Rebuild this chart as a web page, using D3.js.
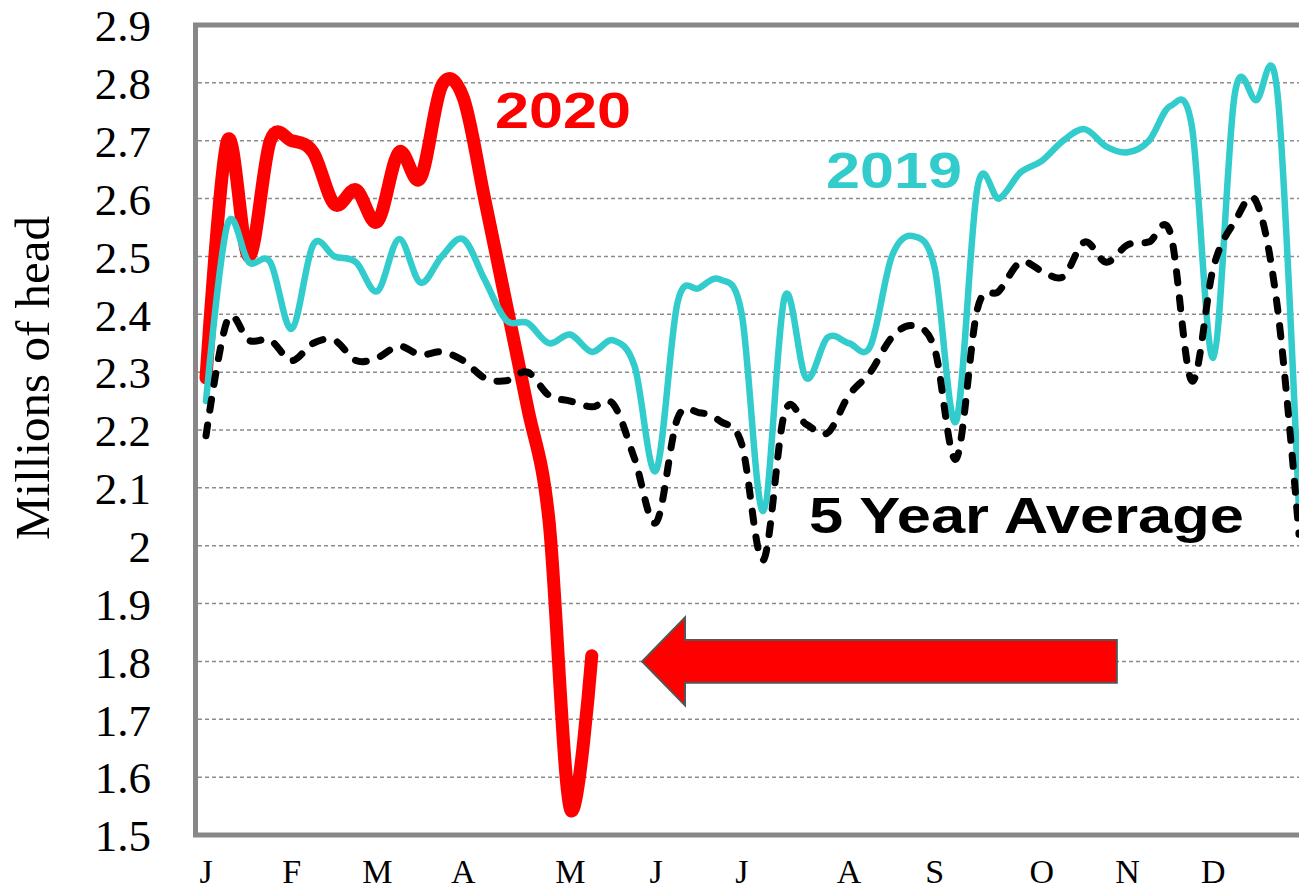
<!DOCTYPE html>
<html>
<head>
<meta charset="utf-8">
<script src="https://cdn.jsdelivr.net/npm/d3@7"></script>
<style>
  body { margin: 0; background: #fff; }
  svg { display: block; }
</style>
</head>
<body>
<script>
// weekly series, millions of head (week 0 = first week of Jan)
const avg5 = [2.19, 2.39, 2.355, 2.355, 2.32, 2.35, 2.355, 2.32, 2.325, 2.345,
  2.33, 2.335, 2.32, 2.29, 2.285, 2.30, 2.26, 2.25, 2.24, 2.245,
  2.15, 2.04, 2.22, 2.23, 2.215, 2.175, 1.975, 2.23, 2.21, 2.195,
  2.26, 2.30, 2.36, 2.38, 2.34, 2.15, 2.41, 2.44, 2.49, 2.475,
  2.465, 2.525, 2.49, 2.52, 2.525, 2.54, 2.285, 2.48, 2.56, 2.595,
  2.41, 2.02];
const y2019 = [2.25, 2.555, 2.49, 2.49, 2.375, 2.52, 2.50, 2.49, 2.44, 2.53,
  2.455, 2.50, 2.53, 2.46, 2.39, 2.385, 2.35, 2.365, 2.335, 2.355,
  2.31, 2.13, 2.42, 2.445, 2.46, 2.40, 2.06, 2.43, 2.29, 2.36,
  2.35, 2.345, 2.50, 2.535, 2.48, 2.215, 2.62, 2.60, 2.645, 2.665,
  2.70, 2.72, 2.69, 2.68, 2.70, 2.76, 2.725, 2.325, 2.78, 2.77,
  2.78, 2.06];
const y2020 = [2.29, 2.70, 2.50, 2.70, 2.70, 2.68, 2.59, 2.615, 2.56, 2.68,
  2.635, 2.795, 2.775, 2.60, 2.42, 2.24, 2.045, 1.545, 1.81];

const monthLabels = ["J", "F", "M", "A", "M", "J", "J", "A", "S", "O", "N", "D"];
const monthWeeks = [0, 4, 8, 12, 17, 21, 25, 30, 34, 39, 43, 47];
const yTickValues = [1.5, 1.6, 1.7, 1.8, 1.9, 2.0, 2.1, 2.2, 2.3, 2.4, 2.5, 2.6, 2.7, 2.8, 2.9];
const yTickLabels = ["1.5", "1.6", "1.7", "1.8", "1.9", "2", "2.1", "2.2", "2.3", "2.4", "2.5", "2.6", "2.7", "2.8", "2.9"];

var width = 1299, height = 891;

var x = d3.scaleLinear().domain([0, 51]).range([206, 1299]);
var y = d3.scaleLinear().domain([1.5, 2.9]).range([835, 25]);

var svg = d3.select("body").append("svg")
    .attr("width", width)
    .attr("height", height);

// dashed gridlines
svg.append("g")
  .selectAll("line")
  .data(yTickValues.slice(1, -1))
  .enter().append("line")
    .attr("x1", 198).attr("x2", width)
    .attr("y1", d => y(d)).attr("y2", d => y(d))
    .attr("stroke", "#8c8c8c")
    .attr("stroke-width", 1.5)
    .attr("stroke-dasharray", "4,3");

// plot frame (right side runs off the picture)
svg.append("rect")
    .attr("x", 195.5).attr("y", y(2.9))
    .attr("width", 1200).attr("height", y(1.5) - y(2.9))
    .attr("fill", "none")
    .attr("stroke", "#878787")
    .attr("stroke-width", 5);

// y axis labels
var yAxis = d3.axisLeft(y).tickValues(yTickValues)
    .tickFormat((d, i) => yTickLabels[i]).tickSize(0).tickPadding(0);
svg.append("g")
    .attr("transform", "translate(151,0)")
    .call(yAxis)
    .call(g => g.select(".domain").remove())
    .selectAll("text")
      .attr("font-family", "'Liberation Serif', 'Times New Roman', serif")
      .attr("font-size", 45)
      .attr("fill", "#000")
      .attr("dy", "0.35em");

svg.append("text")
    .attr("transform", "translate(49,378) rotate(-90)")
    .attr("text-anchor", "middle")
    .attr("font-family", "'Liberation Serif', 'Times New Roman', serif")
    .attr("font-size", 49)
    .text("Millions of head");

// month labels along the bottom
svg.append("g")
  .selectAll("text")
  .data(monthLabels)
  .enter().append("text")
    .attr("x", (d, i) => x(monthWeeks[i]))
    .attr("y", 883)
    .attr("text-anchor", "middle")
    .attr("font-family", "'Liberation Serif', 'Times New Roman', serif")
    .attr("font-size", 34)
    .text(d => d);

var line = d3.line()
    .x((d, i) => x(i))
    .y(d => y(d))
    .curve(d3.curveCardinal.tension(0));

svg.append("path")
    .datum(y2020)
    .attr("fill", "none")
    .attr("stroke", "#ff0000")
    .attr("stroke-width", 13)
    .attr("stroke-linejoin", "round")
    .attr("stroke-linecap", "round")
    .attr("d", line);

svg.append("path")
    .datum(y2019)
    .attr("fill", "none")
    .attr("stroke", "#33cccc")
    .attr("stroke-width", 6.5)
    .attr("stroke-linejoin", "round")
    .attr("stroke-linecap", "round")
    .attr("d", line);

svg.append("path")
    .datum(avg5)
    .attr("fill", "none")
    .attr("stroke", "#000")
    .attr("stroke-width", 7)
    .attr("stroke-dasharray", "11,15")
    .attr("stroke-linecap", "round")
    .attr("d", line);

// big arrow pointing back at the latest 2020 value
var arrowTip = 20.35, arrowTail = 42.5, arrowLevel = 1.8;
var headLen = 2.0, headHalf = 0.076, shaftHalf = 0.037;
var arrowPts = [
  [arrowTip, arrowLevel],
  [arrowTip + headLen, arrowLevel + headHalf],
  [arrowTip + headLen, arrowLevel + shaftHalf],
  [arrowTail, arrowLevel + shaftHalf],
  [arrowTail, arrowLevel - shaftHalf],
  [arrowTip + headLen, arrowLevel - shaftHalf],
  [arrowTip + headLen, arrowLevel - headHalf]
];
svg.append("polygon")
    .attr("points", arrowPts.map(p => x(p[0]) + "," + y(p[1])).join(" "))
    .attr("fill", "#ff0000")
    .attr("stroke", "#555")
    .attr("stroke-width", 2);

// series labels
function label(txt, x0, base, len, color) {
  svg.append("text")
    .attr("x", x0).attr("y", base)
    .attr("font-family", "'Liberation Sans', Arial, sans-serif")
    .attr("font-weight", "bold")
    .attr("font-size", 50)
    .attr("textLength", len)
    .attr("lengthAdjust", "spacingAndGlyphs")
    .attr("fill", color)
    .text(txt);
}
label("2020", 495, 128, 136, "#ff0000");
label("2019", 826, 188, 136, "#33cccc");
label("5 Year Average", 809, 533, 435, "#000");
</script>
</body>
</html>
